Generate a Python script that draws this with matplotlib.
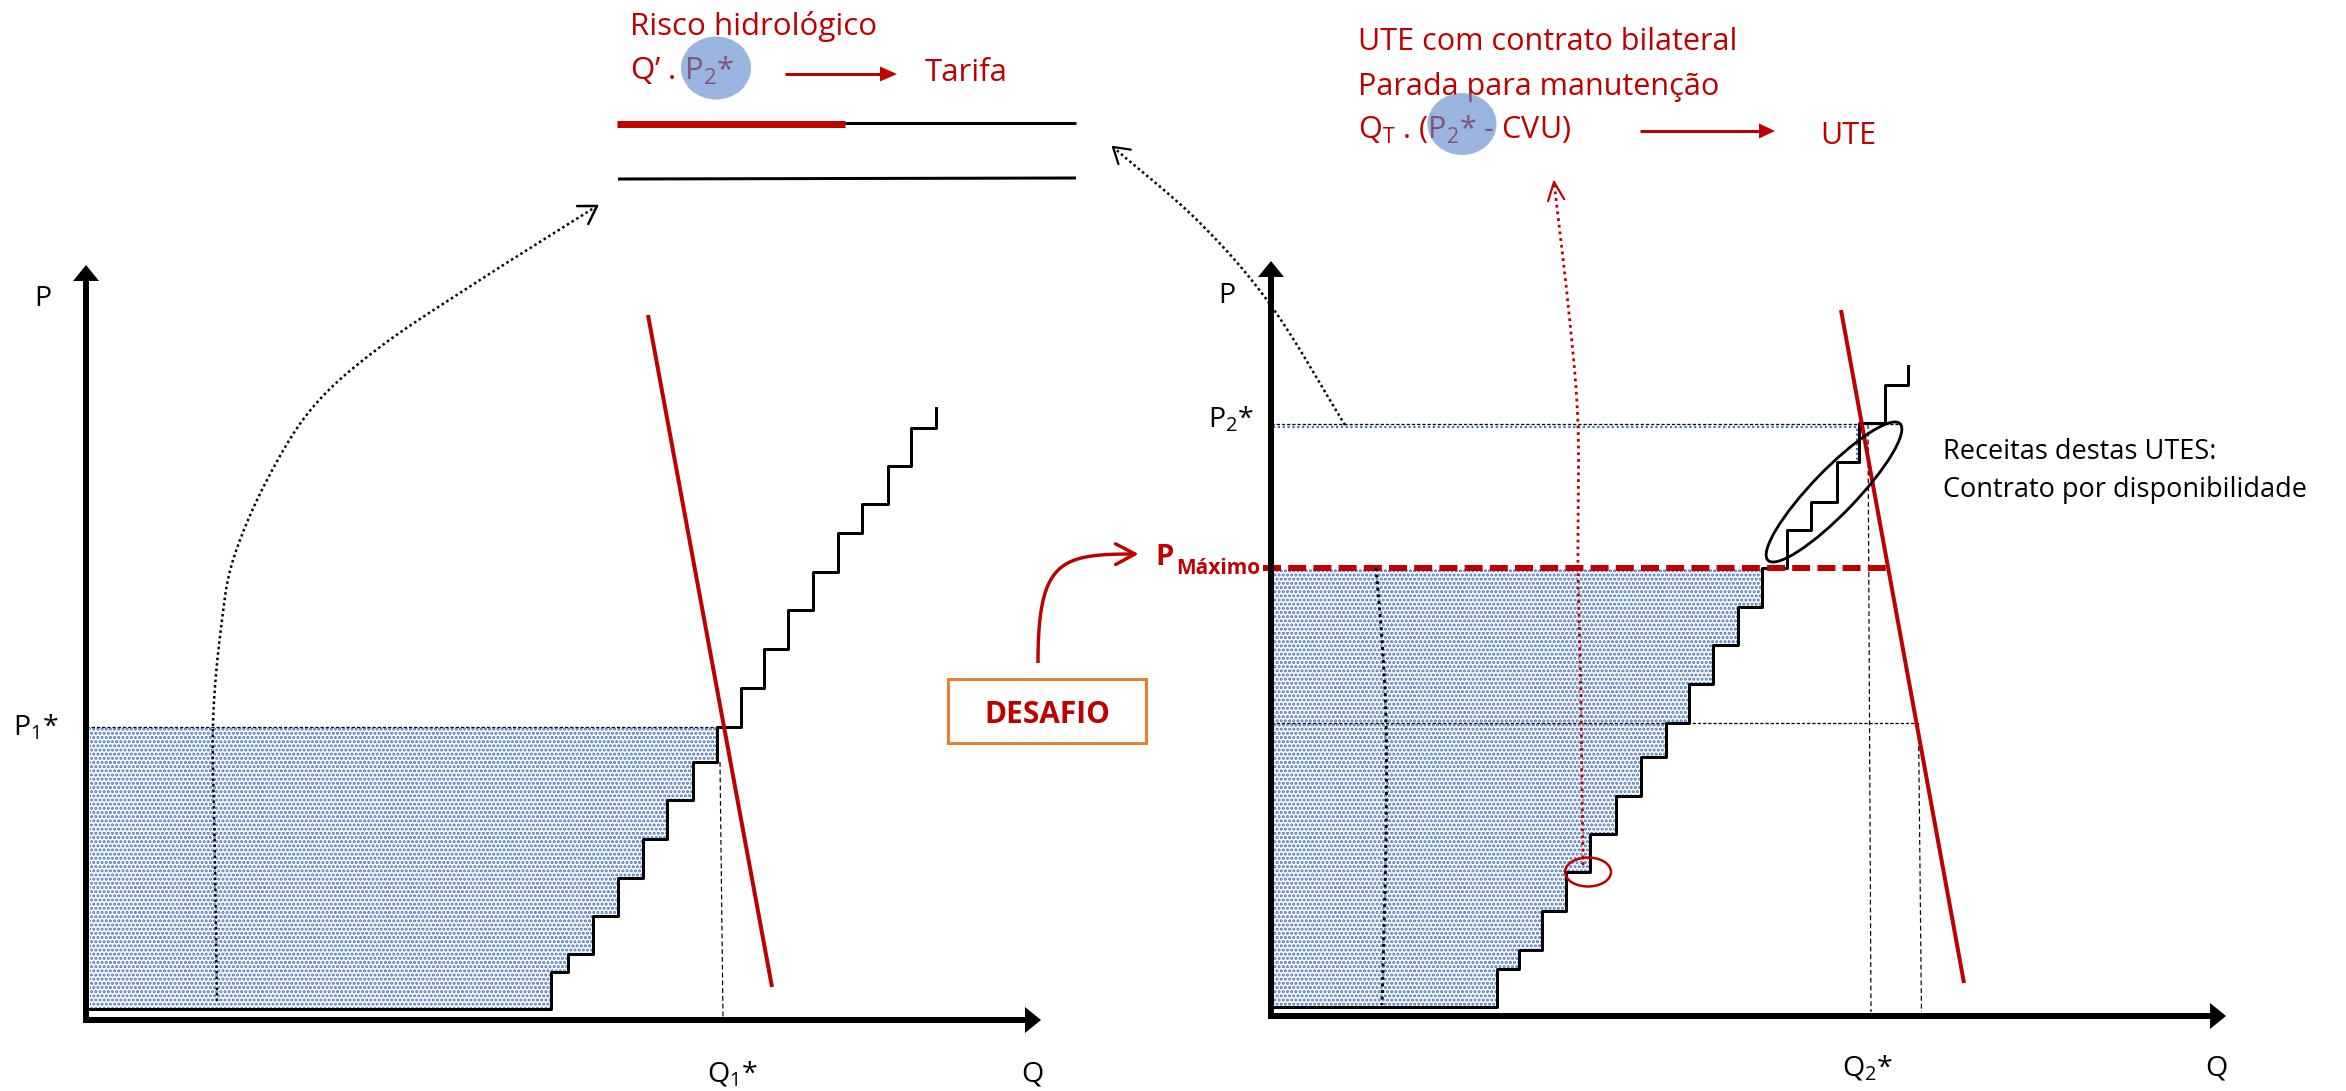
import numpy as np
import matplotlib
matplotlib.use("Agg")
import matplotlib.pyplot as plt
from matplotlib.patches import Ellipse, Rectangle, Polygon

W, H, DPI = 2346, 1091, 100


def px(n):
    """pixels -> points"""
    return n * 72.0 / DPI


plt.rcParams['font.family'] = ['Open Sans', 'DejaVu Sans']
plt.rcParams['mathtext.fontset'] = 'custom'
plt.rcParams['mathtext.rm'] = 'Open Sans'
plt.rcParams['mathtext.it'] = 'Open Sans:italic'
plt.rcParams['mathtext.bf'] = 'Open Sans:bold'
plt.rcParams['hatch.linewidth'] = 1.5
plt.rcParams['hatch.color'] = '#4472C4'

RED = '#C00000'
BLUE = '#4472C4'
ORANGE = '#ED7D31'

# ------------------------------------------------------------------ data
# quantities / prices in schematic units
axis_q_max = 955
axis_p_max = 755

# left market: merit-order supply (step edges) and demand
left_supply_q = [4, 465, 482, 507, 532, 557, 581, 607, 631, 655, 678, 702,
                 727, 752, 776, 802, 825, 850]
left_supply_p = [11, 48, 66, 104, 142, 181, 220, 258, 293, 332, 371, 410,
                 448, 487, 516, 554, 592, 612]
left_demand_q = [562, 686]
left_demand_p = [705, 33]
p1_star = 293
q1_star = 634

# right market
right_supply_q = [2, 226, 248, 271, 295, 319, 345, 370, 395, 418, 442, 467,
                  491, 516, 540, 566, 588, 614, 637]
right_supply_p = [9, 47, 66, 105, 144, 182, 220, 259, 293, 332, 371, 409,
                  448, 486, 514, 554, 593, 631, 650]
right_demand_q = [570, 693]
right_demand_p = [706, 33]
p2_star = 592
q2_star = 597
p_maximo = 448

# annotation paths (schematic)
left_arc_path = [(217, 1001), (215, 860), (213, 724), (222, 620), (234, 557),
                 (267, 480), (313, 407), (380, 347), (480, 280), (597, 206)]
right_arc_path = [(1345, 425), (1272, 307), (1200, 223), (1113, 147)]
thermal_arc_path = [(1376, 568), (1382, 640), (1386, 720), (1386, 840),
                    (1382, 1005)]
red_arc_path = [(1583, 865), (1581, 700), (1578, 568), (1578, 425),
                (1569, 313), (1554, 182)]
desafio_path = [(1038, 663), (1038, 560), (1060, 554), (1135, 554)]

# texts
txt_risco = 'Risco hidrológico'
txt_q_p2 = 'Q’ . P$_\\mathrm{2}$*'
txt_tarifa = 'Tarifa'
txt_ute_lines = ['UTE com contrato bilateral', 'Parada para manutenção',
                 'Q$_\\mathrm{T}$ . (P$_\\mathrm{2}$* - CVU)']
txt_ute = 'UTE'
txt_receitas = ['Receitas destas UTES:', 'Contrato por disponibilidade']
txt_desafio = 'DESAFIO'

# ------------------------------------------------------------------ helpers
fig = plt.figure(figsize=(W / DPI, H / DPI), dpi=DPI)


def panel_axes(ox, oy):
    ax = fig.add_axes([0, 0, 1, 1])
    ax.set_xlim(-ox, W - ox)
    ax.set_ylim(-(H - oy), oy)
    ax.axis('off')
    ax.patch.set_alpha(0)
    return ax


def catmull(points, n=40):
    pts = np.asarray(points, float)
    P = np.vstack([2 * pts[0] - pts[1], pts, 2 * pts[-1] - pts[-2]])
    out = []
    t = np.linspace(0, 1, n, endpoint=False)[:, None]
    for i in range(1, len(P) - 2):
        p0, p1, p2, p3 = P[i - 1], P[i], P[i + 1], P[i + 2]
        seg = 0.5 * (2 * p1 + (-p0 + p2) * t + (2 * p0 - 5 * p1 + 4 * p2 - p3) * t ** 2
                     + (-p0 + 3 * p1 - 3 * p2 + p3) * t ** 3)
        out.append(seg)
    out.append(pts[-1][None, :])
    return np.vstack(out)


def bezier(points, n=80):
    p0, p1, p2, p3 = [np.asarray(p, float) for p in points]
    t = np.linspace(0, 1, n)[:, None]
    return ((1 - t) ** 3) * p0 + 3 * ((1 - t) ** 2) * t * p1 + 3 * (1 - t) * t ** 2 * p2 + t ** 3 * p3


def open_head(ax, tip, prev, length, ang, **kw):
    tip = np.asarray(tip, float)
    d = np.asarray(prev, float) - tip
    d /= np.linalg.norm(d)
    for s in (1, -1):
        a = np.deg2rad(s * ang)
        R = np.array([[np.cos(a), -np.sin(a)], [np.sin(a), np.cos(a)]])
        e = tip + length * R @ d
        ax.plot([tip[0], e[0]], [tip[1], e[1]], solid_capstyle='round', **kw)


def filled_arrow(ax, x0, x1, y, head_len, head_half, lw, color):
    ax.plot([x0, x1 - head_len + 1], [y, y], color=color, lw=px(lw),
            solid_capstyle='butt')
    ax.add_patch(Polygon([[x1, y], [x1 - head_len, y - head_half],
                          [x1 - head_len, y + head_half]], closed=True,
                         color=color, lw=0))


def draw_axes(ax):
    ax.plot([-3, axis_q_max - 14], [0, 0], color='black', lw=px(6),
            solid_capstyle='butt', zorder=6)
    ax.plot([0, 0], [-3, axis_p_max - 14], color='black', lw=px(6),
            solid_capstyle='butt', zorder=6)
    ax.add_patch(Polygon([[axis_q_max, 0], [axis_q_max - 16, 13],
                          [axis_q_max - 16, -13]], closed=True, color='black',
                         lw=0, zorder=6))
    ax.add_patch(Polygon([[0, axis_p_max], [-13, axis_p_max - 16],
                          [13, axis_p_max - 16]], closed=True, color='black',
                         lw=0, zorder=6))


def shade(ax, q, p, cap):
    idx = next(i for i, v in enumerate(p) if v >= cap)
    xs = list(q[:idx + 1])
    ys = list(p[:idx]) + [p[idx - 1]]
    ax.fill_between(xs, ys, cap, step='post', facecolor='none',
                    edgecolor=BLUE, hatch='....', linewidth=0, zorder=1)
    return idx


def demand_q_at(dq, dp, level):
    return float(np.interp(level, dp[::-1], dq[::-1]))


DOT = (0, (1, 1.2))

# ------------------------------------------------------------------ left panel
axL = panel_axes(86, 1020)
iL = shade(axL, left_supply_q, left_supply_p, p1_star)
qL_int = demand_q_at(left_demand_q, left_demand_p, p1_star)
axL.plot([0, qL_int], [p1_star, p1_star], color='black', lw=px(1.3),
         ls=(0, (2.5, 1.5)), zorder=2)
axL.plot([q1_star, q1_star + 3], [left_supply_p[iL - 1], 3], color='black',
         lw=px(1.2), ls=(0, (4, 2.5)), zorder=2)
axL.step(left_supply_q, left_supply_p, where='post', color='black',
         lw=px(3), zorder=4)
axL.plot(left_demand_q, left_demand_p, color=RED, lw=px(4), zorder=5,
         solid_capstyle='butt')
draw_axes(axL)

# ------------------------------------------------------------------ right panel
axR = panel_axes(1271, 1016)
iR = shade(axR, right_supply_q, right_supply_p, p_maximo)
qR_p1 = demand_q_at(right_demand_q, right_demand_p, p1_star)
qR_max = demand_q_at(right_demand_q, right_demand_p, p_maximo)
i2 = next(i for i, v in enumerate(right_supply_p) if v >= p2_star)
# thin shaded outline just below P2*
axR.plot([2, right_supply_q[i2] - 2, right_supply_q[i2] - 2],
         [p2_star - 3, p2_star - 3, right_supply_p[i2 - 1] + 2], color=BLUE,
         lw=px(2.2), ls=(0, (1, 1.2)), zorder=2)
axR.plot([0, q2_star + 30], [p2_star, p2_star], color='black', lw=px(1.3),
         ls=(0, (2.5, 1.5)), zorder=3)
axR.plot([0, qR_p1], [p1_star, p1_star], color='black', lw=px(1.3),
         ls=(0, (2.5, 1.5)), zorder=3)
axR.plot([q2_star, q2_star + 3], [p2_star, 4], color='black', lw=px(1.2),
         ls=(0, (4, 2.5)), zorder=3)
axR.plot([qR_p1 + 2, qR_p1 + 5], [p1_star, 4], color='black', lw=px(1.2),
         ls=(0, (4, 2.5)), zorder=3)
axR.plot([-8, qR_max], [p_maximo, p_maximo], color=RED, lw=px(6),
         ls=(0, (3, 1.2)), zorder=5, dash_capstyle='butt')
axR.step(right_supply_q, right_supply_p, where='post', color='black',
         lw=px(3), zorder=4)
axR.plot(right_demand_q, right_demand_p, color=RED, lw=px(4), zorder=5,
         solid_capstyle='butt')
draw_axes(axR)
axR.add_patch(Ellipse((563, 524), 190, 44, angle=46, fill=False,
                      edgecolor='black', lw=px(2.8), zorder=6))

# ------------------------------------------------------------------ annotations (pixel space)
ax = fig.add_axes([0, 0, 1, 1])
ax.set_xlim(0, W)
ax.set_ylim(H, 0)
ax.axis('off')
ax.patch.set_alpha(0)

# dotted arcs
c = catmull(left_arc_path)
ax.plot(c[:, 0], c[:, 1], color='black', lw=px(2.5), ls=DOT, zorder=3)
open_head(ax, c[-1], c[-12], 20, 32, color='black', lw=px(2.5), zorder=3)

c = catmull(right_arc_path)
ax.plot(c[:, 0], c[:, 1], color='black', lw=px(2.5), ls=DOT, zorder=3)
open_head(ax, c[-1], c[-12], 18, 32, color='black', lw=px(2.2), zorder=3)

c = catmull(thermal_arc_path)
ax.plot(c[:, 0], c[:, 1], color='black', lw=px(3), ls=DOT, zorder=3)

c = catmull(red_arc_path)
ax.plot(c[:, 0], c[:, 1], color=RED, lw=px(2.8), ls=(0, (1, 1.4)), zorder=3)
open_head(ax, c[-1], c[-12], 20, 24, color=RED, lw=px(2.2), zorder=3)
ax.add_patch(Ellipse((1588, 872), 46, 29, fill=False, edgecolor=RED,
                     lw=px(2.5), zorder=7))

# DESAFIO
ax.add_patch(Rectangle((948, 679), 198, 64, facecolor='white',
                       edgecolor=ORANGE, lw=px(3), zorder=4))
ax.text(1047, 723, txt_desafio, color=RED, fontsize=21.5, fontweight='bold',
        ha='center', va='baseline', zorder=5)
c = bezier(desafio_path)
ax.plot(c[:, 0], c[:, 1], color=RED, lw=px(3.4), zorder=4,
        solid_capstyle='butt')
open_head(ax, c[-1], c[-6], 22, 28, color=RED, lw=px(3.4), zorder=4)

# P maximo label
ax.text(1155, 565, 'P', color=RED, fontsize=21, fontweight='bold',
        ha='left', va='baseline')
ax.text(1176, 574, 'Máximo', color=RED, fontsize=15, fontweight='bold',
        ha='left', va='baseline')

# top left block
ax.text(630, 35, txt_risco, color=RED, fontsize=22.5, ha='left', va='baseline')
ax.text(630, 80, txt_q_p2, color=RED, fontsize=22.5, ha='left', va='baseline')
ax.add_patch(Ellipse((716, 68), 70, 63, facecolor=(93/255, 136/255, 204/255),
                     alpha=0.62, lw=0, zorder=6))
filled_arrow(ax, 785, 897, 74, 17, 7.5, 3, RED)
ax.text(925, 81, txt_tarifa, color=RED, fontsize=22.5, ha='left', va='baseline')
ax.plot([617, 845], [123.5, 123.5], color=RED, lw=px(7), solid_capstyle='butt')
ax.plot([845, 1076], [123, 123], color='black', lw=px(3), solid_capstyle='butt')
ax.plot([618, 1076], [179, 178], color='black', lw=px(3), solid_capstyle='butt')

# top right block
for k, s in enumerate(txt_ute_lines):
    ax.text(1358, 50 + 44.5 * k, s, color=RED, fontsize=22, ha='left',
            va='baseline')
ax.add_patch(Ellipse((1462, 124), 69, 62, facecolor=(93/255, 136/255, 204/255),
                     alpha=0.62, lw=0, zorder=6))
filled_arrow(ax, 1640, 1775, 131, 16, 7.5, 3, RED)
ax.text(1820, 144, txt_ute, color=RED, fontsize=22, ha='left', va='baseline')

# receitas
for k, s in enumerate(txt_receitas):
    ax.text(1943, 459 + 38 * k, s, color='black', fontsize=19.5, ha='left',
            va='baseline')

# axis labels
lab = dict(color='black', fontsize=20.5, ha='left', va='baseline')
ax.text(34, 306, 'P', **lab)
ax.text(13, 736, 'P$_\\mathrm{1}$*', **lab)
ax.text(707, 1082, 'Q$_\\mathrm{1}$*', **lab)
ax.text(1021, 1082, 'Q', **lab)
ax.text(1218, 303, 'P', **lab)
ax.text(1208, 427, 'P$_\\mathrm{2}$*', **lab)
ax.text(1842, 1076, 'Q$_\\mathrm{2}$*', **lab)
ax.text(2205, 1076, 'Q', **lab)

fig.savefig('out.png', dpi=DPI, facecolor='white')
